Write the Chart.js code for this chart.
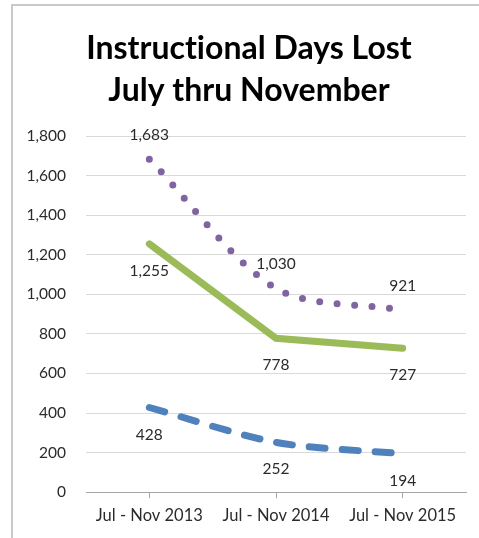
<!DOCTYPE html>
<html>
<head>
<meta charset="utf-8">
<script src="https://cdn.jsdelivr.net/npm/chart.js@4.4.1/dist/chart.umd.min.js"></script>
<style>
  html, body { margin: 0; padding: 0; background: #fff; overflow: hidden; }
</style>
</head>
<body>
<canvas id="chartDays" width="479" height="538"></canvas>
<script>
const periods = ["Jul - Nov 2013", "Jul - Nov 2014", "Jul - Nov 2015"];
const topSeries = [1683, 1030, 921];
const midSeries = [1255, 778, 727];
const lowSeries = [428, 252, 194];
const titleLines = ["Instructional Days Lost", "July thru November"];

// where each value label sits: above or below its point
const labelSide = [-1, 1, 1];

const fontFam = "Lato, 'Open Sans', sans-serif";

// grey frame on the top and left, and no Lato ligatures
const frame = {
    id: 'frame',
    afterLayout(chart) {
        // title sits a bit right of the canvas centre
        if (chart.titleBlock) chart.titleBlock.left = 32;
    },
    beforeDraw(chart) {
        const ctx = chart.ctx;
        ctx.letterSpacing = '0.01px';
        ctx.save();
        ctx.strokeStyle = '#c9c9c9';
        ctx.lineWidth = 2;
        ctx.beginPath();
        ctx.moveTo(12, chart.height);
        ctx.lineTo(12, 5);
        ctx.lineTo(chart.width, 5);
        ctx.stroke();
        ctx.restore();
    }
};

// draws the numbers next to each point
const pointLabels = {
    id: 'pointLabels',
    afterDatasetsDraw(chart) {
        const ctx = chart.ctx;
        ctx.save();
        ctx.font = '15.5px ' + fontFam;
        ctx.fillStyle = '#2b2b2b';
        ctx.textAlign = 'center';
        ctx.textBaseline = 'middle';
        chart.data.datasets.forEach((ds, i) => {
            const meta = chart.getDatasetMeta(i);
            meta.data.forEach((pt, j) => {
                const off = labelSide[i] < 0 ? -24 : 27;
                ctx.fillText(ds.data[j].toLocaleString('en-US'), pt.x, pt.y + off);
            });
        });
        ctx.restore();
    }
};

const ctx1 = document.getElementById('chartDays').getContext('2d');
const daysChart = new Chart(ctx1, {
    type: 'line',
    data: {
        labels: periods,
        datasets: [
            {
                label: 'Series 1',
                data: topSeries,
                borderColor: '#8064a2',
                borderWidth: 7,
                borderDash: [0, 17.5],
                borderCapStyle: 'round',
                tension: 0.3,
                pointRadius: 0
            },
            {
                label: 'Series 2',
                data: midSeries,
                borderColor: '#9bbb59',
                borderWidth: 7,
                borderCapStyle: 'round',
                tension: 0,
                pointRadius: 0
            },
            {
                label: 'Series 3',
                data: lowSeries,
                borderColor: '#4f81bd',
                borderWidth: 7,
                borderDash: [16, 17],
                borderCapStyle: 'round',
                tension: 0.3,
                pointRadius: 0
            }
        ]
    },
    options: {
        responsive: false,
        animation: false,
        layout: { padding: { left: 12, right: 13, top: 0, bottom: 4 } },
        plugins: {
            legend: { display: false },
            tooltip: { enabled: false },
            title: {
                display: true,
                text: titleLines,
                color: '#000',
                font: { family: fontFam, size: 32, weight: 'bold', lineHeight: '42px' },
                padding: { top: 28, bottom: 24 }
            }
        },
        scales: {
            x: {
                offset: true,
                grid: { drawOnChartArea: false, drawTicks: true, tickLength: 6, color: '#a6a6a6' },
                border: { color: '#a6a6a6', width: 1 },
                ticks: { color: '#2b2b2b', padding: 8, maxRotation: 0, font: { family: fontFam, size: 16.5 } }
            },
            y: {
                min: 0,
                max: 1800,
                afterFit(axis) { axis.width = 74; },
                grid: { color: '#d9d9d9', drawTicks: false },
                border: { display: false },
                ticks: {
                    stepSize: 200,
                    padding: 20,
                    color: '#2b2b2b',
                    font: { family: fontFam, size: 15.5 },
                    callback: v => v.toLocaleString('en-US')
                }
            }
        }
    },
    plugins: [frame, pointLabels]
});
</script>
</body>
</html>
